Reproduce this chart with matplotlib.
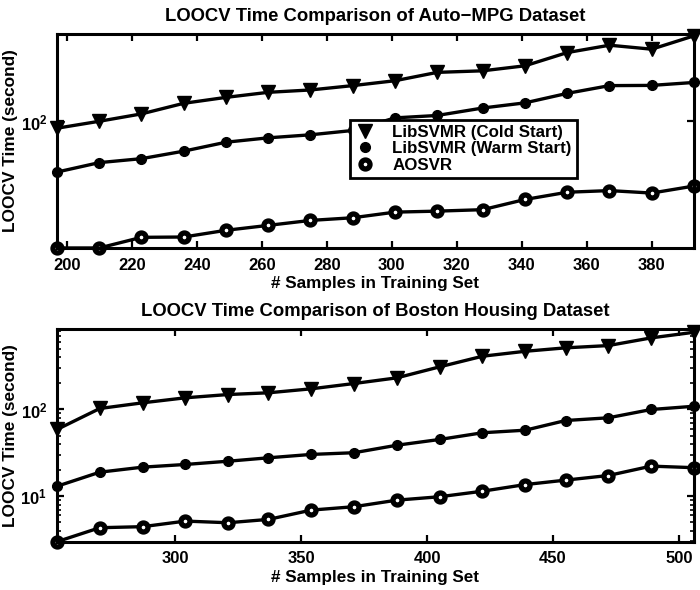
import numpy as np
import matplotlib.pyplot as plt
from matplotlib.lines import Line2D
from matplotlib.ticker import FixedLocator, NullLocator, FuncFormatter, LogLocator

plt.rcParams['font.family'] = ['Liberation Sans', 'DejaVu Sans']
plt.rcParams['font.weight'] = 'bold'
plt.rcParams['mathtext.fontset'] = 'custom'
plt.rcParams['mathtext.rm'] = 'Liberation Sans:bold'
plt.rcParams['mathtext.bf'] = 'Liberation Sans:bold'

# Auto-MPG
mpg_x = [197, 210, 223, 236, 249, 262, 275, 288, 301, 314, 328, 341, 354, 367, 380, 393]
mpg_cold = [93.8, 100.2, 107.5, 118.9, 125.8, 132, 135, 140.7, 147.4, 159.6, 162, 169.9,
            192.7, 206.7, 199, 226]
mpg_warm = [61.8, 67.6, 70.2, 75.4, 82.1, 85.6, 88.1, 91.8, 103.5, 105.9, 113.7, 119.4,
            130.7, 140.7, 141, 145]
mpg_aosvr = [30, 30, 33.2, 33.3, 35.5, 37.2, 39.0, 40.0, 42.2, 42.6, 43.2, 47.6,
             51.0, 51.8, 50.6, 54.1]

# Boston Housing
bos_x = [253, 270, 287, 304, 321, 337, 354, 371, 388, 405, 422, 439, 455, 472, 489, 506]
bos_cold = [58.8, 102.7, 119.4, 136.5, 148.9, 155.9, 173.3, 199.5, 232, 310.8, 412, 470,
            515, 547, 671, 779]
bos_warm = [13.0, 18.9, 21.6, 23.2, 25.3, 27.7, 30.3, 31.7, 38.7, 45.1, 53.9, 57.7,
            74.6, 80.2, 100, 109]
bos_aosvr = [2.98, 4.32, 4.44, 5.15, 4.93, 5.39, 6.90, 7.55, 8.99, 9.84, 11.4, 13.6,
             15.3, 17.3, 22.2, 21.3]

labels = ['LibSVMR (Cold Start)', 'LibSVMR (Warm Start)', 'AOSVR']

cold_style = dict(marker='v', ms=10, mfc='k', mec='k')
warm_style = dict(marker='o', ms=7, mfc='k', mec='k')
aosvr_style = dict(marker='o', ms=6.5, mfc='white', mec='k', mew=3.8)


def draw_panel(ax, x, cold, warm, aosvr, title, xticks, ylim, yticks, minor):
    for y, st in [(cold, cold_style), (warm, warm_style), (aosvr, aosvr_style)]:
        ax.plot(x, y, '-', color='k', lw=2.4, clip_on=False, **st)
    ax.set_yscale('log')
    ax.set_xlim(x[0], x[-1])
    ax.set_ylim(*ylim)
    ax.set_xticks(xticks)
    ax.yaxis.set_major_locator(FixedLocator(yticks))
    ax.yaxis.set_major_formatter(FuncFormatter(
        lambda v, p: r'$\mathbf{10^{%d}}$' % round(np.log10(v))))
    if minor:
        ax.yaxis.set_minor_locator(LogLocator(subs=np.arange(2, 10)))
    else:
        ax.yaxis.set_minor_locator(NullLocator())
    ax.tick_params(which='major', direction='in', top=True, right=True,
                   length=5, width=1.6, labelsize=12, pad=7)
    ax.tick_params(which='minor', direction='in', top=True, right=True,
                   length=3, width=1.2)
    for s in ax.spines.values():
        s.set_linewidth(2.2)
    ax.set_title(title, fontsize=13.3, fontweight='bold', pad=9)
    ax.set_xlabel('# Samples in Training Set', fontsize=12.3, fontweight='bold', labelpad=2.5)
    ax.set_ylabel('LOOCV Time (second)', fontsize=12.4, fontweight='bold', labelpad=2)


fig = plt.figure(figsize=(7, 5.9), dpi=100)
ax1 = fig.add_axes([0.0814, 0.5797, 0.910, 0.3627])
ax2 = fig.add_axes([0.0814, 0.0819, 0.910, 0.3605])

draw_panel(ax1, mpg_x, mpg_cold, mpg_warm, mpg_aosvr,
           'LOOCV Time Comparison of Auto\u2212MPG Dataset',
           np.arange(200, 381, 20), (30, 230), [100], False)
draw_panel(ax2, bos_x, bos_cold, bos_warm, bos_aosvr,
           'LOOCV Time Comparison of Boston Housing Dataset',
           np.arange(300, 501, 50), (2.98, 850), [10, 100], True)

handles = [Line2D([], [], ls='none', color='k', **cold_style),
           Line2D([], [], ls='none', color='k', **warm_style),
           Line2D([], [], ls='none', color='k', **aosvr_style)]
leg = ax1.legend(handles, labels, loc='upper left', bbox_to_anchor=(0.46, 0.6),
                 fontsize=12.2, frameon=True, fancybox=False, framealpha=1,
                 borderpad=0.3, labelspacing=0.1, handlelength=1.2,
                 handletextpad=1.0, borderaxespad=0)
leg.get_frame().set_edgecolor('k')
leg.get_frame().set_linewidth(2.0)

fig.savefig('out.png', dpi=100)
